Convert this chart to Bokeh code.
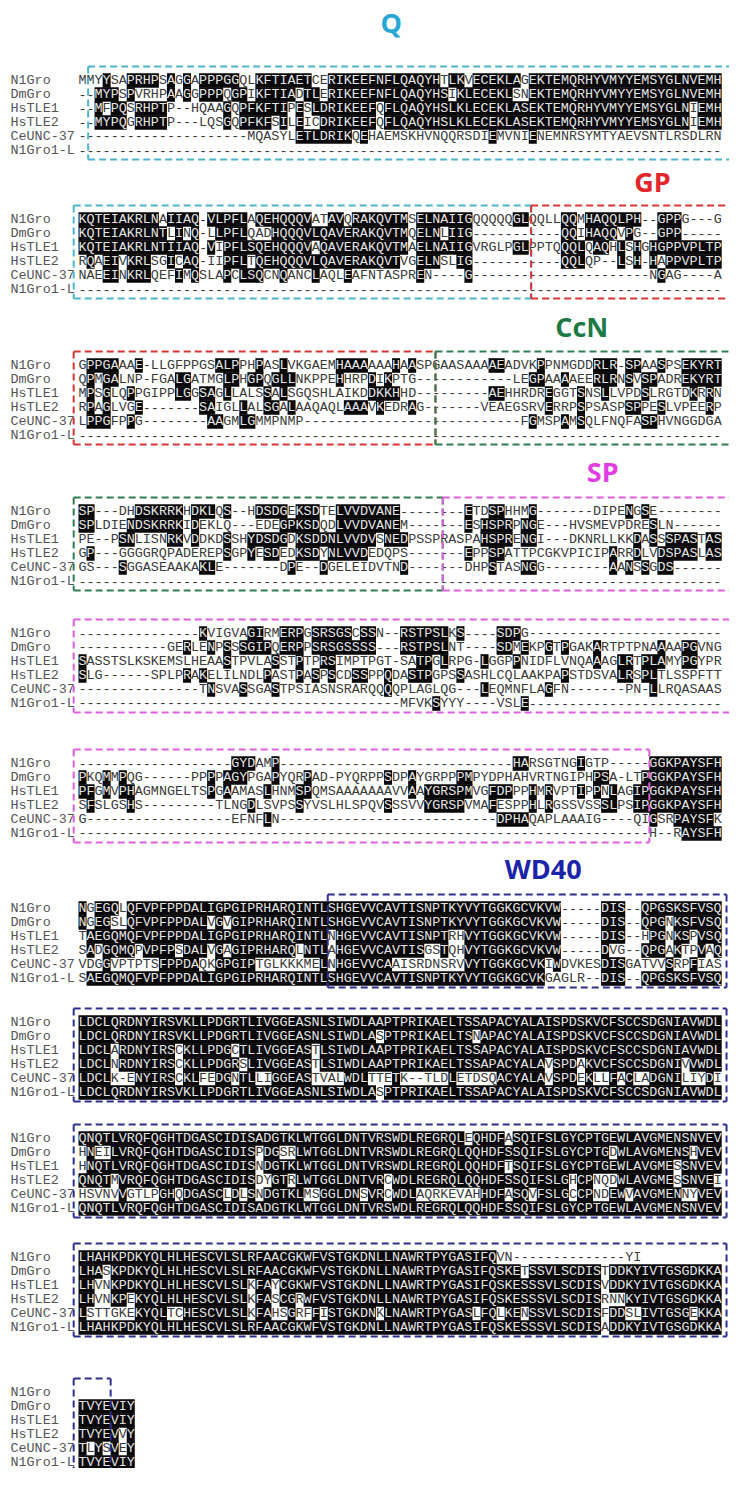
from collections import Counter
from bokeh.plotting import figure
from bokeh.models import Range1d, ColumnDataSource
from bokeh.embed import file_html
from bokeh.resources import INLINE
from bokeh.core.properties import value

# ---------------- data ----------------
NAMES = ["N1Gro", "DmGro", "HsTLE1", "HsTLE2", "CeUNC-37", "N1Gro1-L"]

BLOCK_1 = [
    "MMYYSAPRHPSAGGAPPPGGQLKFTIAETCERIKEEFNFLQAQYHTLKVECEKLAGEKTEMQRHYVMYYEMSYGLNVEMH",
    "--MYPSPVRHPAAGGPPPQGPIKFTIADTLERIKEEFNFLQAQYHSIKLECEKLSNEKTEMQRHYVMYYEMSYGLNVEMH",
    "--MFPQSRHPTP--HQAAGQPFKFTIPESLDRIKEEFQFLQAQYHSLKLECEKLASEKTEMQRHYVMYYEMSYGLNIEMH",
    "--MYPQGRHPTP---LQSGQPFKFSILEICDRIKEEFQFLQAQYHSLKLECEKLASEKTEMQRHYVMYYEMSYGLNIEMH",
    "---------------------MQASYLETLDRIKQEHAEMSKHVNQQRSDIEMVNIENEMNRSYMTYAEVSNTLRSDLRN",
    "--------------------------------------------------------------------------------",
]
BLOCK_2 = [
    "KQTEIAKRLNAIIAQ-VLPFLAQEHQQQVATAVQRAKQVTMSELNAIIGQQQQQGLQQLLQQMHAQQLPH--GPPG---G",
    "KQTEIAKRLNTLINQ-LLPFLQADHQQQVLQAVERAKQVTMQELNLIIG-----------QQIHAQQVPG--GPP-----",
    "KQTEIAKRLNTIIAQ-VIPFLSQEHQQQVAQAVERAKQVTMAELNAIIGVRGLPGLPPTQQQLQAQHLSHGHGPPVPLTP",
    "RQAEIVKRLSGICAQ-IIPFLTQEHQQQVLQAVERAKQVTVGELNSLIG-----------QQLQP--LSH-HAPPVPLTP",
    "NAEEINKRLQEFIMQSLAPCLSQCNQANCLAQLEAFNTASPREN----G----------------------NGAG----A",
    "--------------------------------------------------------------------------------",
]
BLOCK_3 = [
    "GPPGAAAE-LLGFPPGSALPPHPASLVKGAEMHAAAAAAHAASPGAASAAAAEADVKPPNMGDDRLR-SPAASPSEKYRT",
    "QPMGALNP-FGALGATMGLPHGPQGLLNKPPEHHRPDIKPTG------------LEGPAAAAEERLRNSVSPADREKYRT",
    "MPSGLQPPGIPPLGGSAGLLALSSALSGQSHLAIKDDKKHHD---------AEHHRDREGGTSNSLLVPDSLRGTDKRRN",
    "RPAGLVGE-------SAIGLLALSGALAAQAQLAAAVKEDRAG-------VEAEGSRVERRPSPSASPSPPESLVPEERP",
    "LPPGFPPG--------AAGMLGMMPNMP---------------------------FGMSPAMSQLFNQFASPHVNGGDGA",
    "--------------------------------------------------------------------------------",
]
BLOCK_4 = [
    "SP---DHDSKRRKHDKLQS--HDSDGEKSDTELVVDVANE--------ETDSPHHMG-------DIPENGSE--------",
    "SPLDIENDSKRRKIDEKLQ---EDEGPKSDQDLVVDVANEM-------ESHSPRPNGE---HVSMEVPDRESLN------",
    "PE--PSNLISNRKVDDKDSSHYDSDGDKSDDNLVVDVSNEDPSSPRASPAHSPRENGI---DKNRLLKKDASSSPASTAS",
    "GP---GGGGRQPADEREPSGPYESDEDKSDYNLVVDEDQPS-------EPPSPATTPCGKVPICIPARRDLVDSPASLAS",
    "GS---SGGASEAAKAKLE-------DPE--DGELEIDVTND-------DHPSTASNGG--------AANSSGDS------",
    "--------------------------------------------------------------------------------",
]
BLOCK_5 = [
    "---------------KVIGVAGIRMERPGSRSGSCSSN--RSTPSLKS----SDPG------------------------",
    "-----------GERLENPSSSGIPQERPPSRSGSSSS---RSTPSLNT----SDMEKPGTPGAKARTPTPNAAAAPGVNG",
    "SASSTSLKSKEMSLHEAASTPVLASSTPTPRSIMPTPGT-SATPGLRPG-LGGPPNIDFLVNQAAAGLRTPLAMYPGYPR",
    "SLG------SPLPRAKELILNDLPASTPASPSCDSSPPQDASTPGPSSASHLCQLAAKPAPSTDSVALRSPLTLSSPFTT",
    "---------------TNSVASSGASTPSIASNSRARQQQQPLAGLQG---LEQMNFLAGFN-------PN-LLRQASAAS",
    "----------------------------------------MFVKSYYY----VSLE------------------------",
]
BLOCK_6 = [
    "-------------------GYDAMP-----------------------------HARSGTNGIGTP-----GGKPAYSFH",
    "PKQMMPQG------PPPPAGYPGAPYQRPAD-PYQRPPSDPAYGRPPPMPYDPHAHVRTNGIPHPSA-LTPGGKPAYSFH",
    "PFGMVPHAGMNGELTSPGAAMASLHNMSPQMSAAAAAAAVVAAYGRSPMVGFDPPPHMRVPTIPPNLAGIPGGKPAYSFH",
    "SFSLGSHS---------TLNGDLSVPSSYVSLHLSPQVSSSVVYGRSPVMAFESPPHLRGSSVSSSLPSIPGGKPAYSFH",
    "G------------------EFNFLN---------------------------DPHAQAPLAAAIG----QIGSRPAYSFK",
    "-----------------------------------------------------------------------H--RAYSFH",
]
BLOCK_7 = [
    "NGEGQLQFVPFPPDALIGPGIPRHARQINTLSHGEVVCAVTISNPTKYVYTGGKGCVKVW-----DIS--QPGSKSFVSQ",
    "NGEGSLQFVPFPPDALVGVGIPRHARQINTLSHGEVVCAVTISNPTKYVYTGGKGCVKVW-----DIS--QPGNKSFVSQ",
    "TAEGQMQFVPFPPDALIGPGIPRHARQINTLNHGEVVCAVTISNPTRHVYTGGKGCVKVW-----DIS--HPGNKSPVSQ",
    "SADGQMQPVPFPSDALVGAGIPRHARQLNTLAHGEVVCAVTISGSTQHVYTGGKGCVKVW-----DVG--QPGAKTPVAQ",
    "VDGGVPTPTSFPPDAQKGPGIPTGLKKKMELNHGEVVCAAISRDNSRVVYTGGKGCVKIWDVKESDISGATVVSRPFIAS",
    "SAEGQMQFVPFPPDALIGPGIPRHARQINTLSHGEVVCAVTISNPTKYVYTGGKGCVKGAGLR--DIS--QPGSKSFVSQ",
]
BLOCK_8 = [
    "LDCLQRDNYIRSVKLLPDGRTLIVGGEASNLSIWDLAAPTPRIKAELTSSAPACYALAISPDSKVCFSCCSDGNIAVWDL",
    "LDCLQRDNYIRSVKLLPDGRTLIVGGEASNLSIWDLASPTPRIKAELTSNAPACYALAISPDSKVCFSCCSDGNIAVWDL",
    "LDCLARDNYIRSCKLLPDGCTLIVGGEASTLSIWDLAAPTPRIKAELTSSAPACYALAISPDSKVCFSCCSDGNIAVWDL",
    "LDCLNRDNYIRSCKLLPDGRSLIVGGEASTLSIWDLAAPTPRIKAELTSSAPACYALAVSPDAKVCFSCCSDGNIVVWDL",
    "LDCLK-ENYIRSCKLFEDGNTLLIGGEASTVALWDLTTETK--TLDLETDSQACYALAVSPDEKLLFACLADGNILIYDI",
    "LDCLQRDNYIRSVKLLPDGRTLIVGGEASNLSIWDLASPTPRIKAELTSSAPACYALAISPDSKVCFSCCSDGNIAVWDL",
]
BLOCK_9 = [
    "QNQTLVRQFQGHTDGASCIDISADGTKLWTGGLDNTVRSWDLREGRQLEQHDFASQIFSLGYCPTGEWLAVGMENSNVEV",
    "HNEILVRQFQGHTDGASCIDISPDGSRLWTGGLDNTVRSWDLREGRQLQQHDFSSQIFSLGYCPTGDWLAVGMENSHVEV",
    "HNQTLVRQFQGHTDGASCIDISNDGTKLWTGGLDNTVRSWDLREGRQLQQHDFTSQIFSLGYCPTGEWLAVGMESSNVEV",
    "QNQTMVRQFQGHTDGASCIDISDYGTRLWTGGLDNTVRCWDLREGRQLQQHDFSSQIFSLGHCPNQDWLAVGMESSNVEI",
    "HSVNVVGTLPGHQDGASCLDLSNDGTKLMSGGLDNSVRCWDLAQRKEVAHHDFASQVFSLGCCPNDEWVAVGMENNYVEV",
    "QNQTLVRQFQGHTDGASCIDISADGTKLWTGGLDNTVRSWDLREGRQLQQHDFSSQIFSLGYCPTGEWLAVGMENSNVEV",
]
BLOCK_10 = [
    "LHAHKPDKYQLHLHESCVLSLRFAACGKWFVSTGKDNLLNAWRTPYGASIFQVN--------------YI",
    "LHASKPDKYQLHLHESCVLSLRFAACGKWFVSTGKDNLLNAWRTPYGASIFQSKETSSVLSCDISTDDKYIVTGSGDKKA",
    "LHVNKPDKYQLHLHESCVLSLKFAYCGKWFVSTGKDNLLNAWRTPYGASIFQSKESSSVLSCDISVDDKYIVTGSGDKKA",
    "LHVNKPEKYQLHLHESCVLSLKFASCGRWFVSTGKDNLLNAWRTPYGASIFQSKESSSVLSCDISRNNKYIVTGSGDKKA",
    "LSTTGKEKYQLTCHESCVLSLKFAHSGRFFISTGKDNKLNAWRTPYGASLFQLKENSSVLSCDISFDDSLIVTGSGEKKA",
    "LHAHKPDKYQLHLHESCVLSLRFAACGKWFVSTGKDNLLNAWRTPYGASIFQSKESSSVLSCDISADDKYIVTGSGDKKA",
]
BLOCK_11 = [
    "",
    "TVYEVIY",
    "TVYEVIY",
    "TVYEVVY",
    "TLYSVEY",
    "TVYEVIY",
]
BLOCKS = [BLOCK_1, BLOCK_2, BLOCK_3, BLOCK_4, BLOCK_5, BLOCK_6,
          BLOCK_7, BLOCK_8, BLOCK_9, BLOCK_10, BLOCK_11]

DOMAINS = ["Q", "GP", "CcN", "SP", "WD40"]
# domain spans: (block, first column boundary, last column boundary, domain, closed bottom)
DOMAIN_SPANS = [
    (0, 1.2, 82.0, "Q", True),
    (1, -0.6, 56.3, "Q", True), (1, 56.3, 82.0, "GP", True),
    (2, -0.6, 44.4, "GP", True), (2, 44.4, 82.0, "CcN", True),
    (3, -0.6, 45.3, "CcN", True), (3, 45.3, 82.0, "SP", True),
    (4, -0.6, 82.0, "SP", True),
    (5, -0.6, 71.0, "SP", True),
    (6, 31.0, 80.6, "WD40", True),
    (7, -0.6, 80.6, "WD40", True),
    (8, -0.6, 80.6, "WD40", True),
    (9, -0.6, 80.6, "WD40", True),
    (10, -0.6, 4.0, "WD40", False),
]
# domain titles: (block, column, domain)
DOMAIN_TITLES = [(0, 38.9, "Q"), (1, 71.4, "GP"), (2, 62.6, "CcN"),
                 (3, 65.2, "SP"), (6, 57.8, "WD40")]

# ---------------- styles / layout ----------------
TITLE_COLORS = {"Q": "#2aa6d6", "GP": "#e3262c", "CcN": "#1d7a44",
                "SP": "#e03ee0", "WD40": "#1b24a8"}
BOX_COLORS = {"Q": "#4cb4cc", "GP": "#d93434", "CcN": "#2f7d52",
              "SP": "#df5ede", "WD40": "#2d2f8e"}
NCOL = 80
X0, W, ROW_H = 86.0, 8.04, 14.0
BLOCK_Y = [88, 227, 373, 519, 641, 771, 916, 1030, 1146, 1265, 1400]
TITLE_DY = {"Q": 58, "GP": 38, "CcN": 39, "SP": 40, "WD40": 40}
LABEL_X = 18
MONO = "Liberation Mono"
MIN_IDENT = 2


def shade_mask(rows):
    masks = [[False] * len(r) for r in rows]
    width = max(len(r) for r in rows)
    for c in range(width):
        res = [r[c] for r in rows if c < len(r) and r[c] not in "- "]
        if not res:
            continue
        ch, n = Counter(res).most_common(1)[0]
        if n >= MIN_IDENT:
            for i, r in enumerate(rows):
                if c < len(r) and r[c] == ch:
                    masks[i][c] = True
    return masks


cell = dict(left=[], right=[], top=[], bottom=[])
txt = dict(x=[], y=[], text=[], color=[])
lab = dict(x=[], y=[], text=[])

for b, block in enumerate(BLOCKS):
    rows = [r[:NCOL] for r in block]
    masks = shade_mask(rows)
    for i, (r, m) in enumerate(zip(rows, masks)):
        y = BLOCK_Y[b] + i * ROW_H
        lab["x"].append(LABEL_X)
        lab["y"].append(y)
        lab["text"].append(NAMES[i])
        start = 0
        while start < len(r):
            end = start
            while end < len(r) and m[end] == m[start]:
                end += 1
            seg = r[start:end]
            txt["x"].append(X0 + start * W)
            txt["y"].append(y)
            txt["text"].append(seg)
            txt["color"].append("#e4e4e4" if m[start] else "#3a3a3a")
            if m[start]:
                cell["left"].append(X0 + start * W)
                cell["right"].append(X0 + end * W)
                cell["top"].append(y - ROW_H / 2 - 0.3)
                cell["bottom"].append(y + ROW_H / 2 + 0.3)
            start = end

box = dict(xs=[], ys=[], color=[])
for b, c0, c1, dom, closed in DOMAIN_SPANS:
    top = BLOCK_Y[b] - ROW_H
    bot = BLOCK_Y[b] + 5 * ROW_H + 9 if closed else 1500
    xl, xr = X0 + c0 * W, X0 + c1 * W
    segs = [([xl, xr], [top, top]), ([xl, xl], [top, bot]), ([xr, xr], [top, bot])]
    if closed:
        segs.append(([xl, xr], [bot, bot]))
    for xs, ys in segs:
        box["xs"].append(xs)
        box["ys"].append(ys)
        box["color"].append(BOX_COLORS[dom])

ttl = dict(x=[], y=[], text=[], color=[])
for b, col, dom in DOMAIN_TITLES:
    ttl["x"].append(X0 + col * W)
    ttl["y"].append(BLOCK_Y[b] - TITLE_DY[dom])
    ttl["text"].append(dom)
    ttl["color"].append(TITLE_COLORS[dom])

# ---------------- figure ----------------
p = figure(width=729, height=1468, x_range=Range1d(8, 737), y_range=Range1d(1476, 8),
           x_axis_type=None, y_axis_type=None, toolbar_location=None,
           output_backend="svg", min_border=0, outline_line_color=None,
           background_fill_color="white", border_fill_color="white")
p.grid.visible = False

p.quad(left="left", right="right", top="top", bottom="bottom",
       source=ColumnDataSource(cell), fill_color="#080808", line_color=None)
p.text(x="x", y="y", text="text", text_color="color", source=ColumnDataSource(txt),
       text_font=value(MONO), text_font_size="13.4px", text_align="left",
       text_baseline="middle")
p.text(x="x", y="y", text="text", source=ColumnDataSource(lab),
       text_font=value(MONO), text_font_size="13.4px", text_align="left",
       text_baseline="middle", text_color="#555555")
p.multi_line(xs="xs", ys="ys", line_color="color", source=ColumnDataSource(box),
             line_width=2, line_dash="7 4")
p.text(x="x", y="y", text="text", text_color="color", source=ColumnDataSource(ttl),
       text_font=value("Open Sans"), text_font_size="27px", text_font_style="bold",
       text_align="center", text_baseline="middle")

open("out.html", "w").write(file_html(p, INLINE))
